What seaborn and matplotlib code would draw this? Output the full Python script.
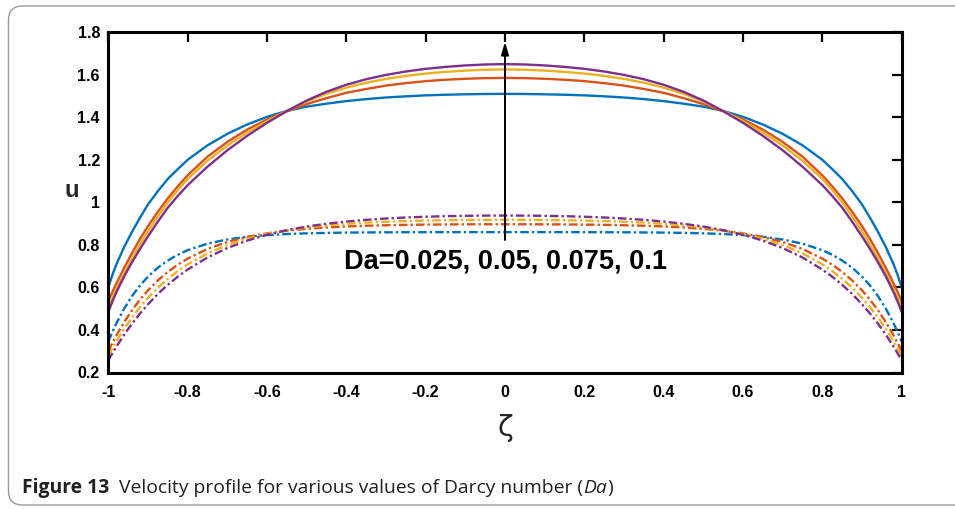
import numpy as np
import pandas as pd
import matplotlib
matplotlib.use("Agg")
import matplotlib.pyplot as plt
import seaborn as sns
from matplotlib.patches import FancyBboxPatch
from matplotlib.transforms import IdentityTransform

# ---------------- data (profiles are symmetric in zeta) -------------
zeta_half = [0.0, 0.05, 0.1, 0.15, 0.2, 0.25, 0.3, 0.35, 0.4, 0.45, 0.5, 0.55, 0.6, 0.65,
             0.7, 0.75, 0.8, 0.825, 0.85, 0.875, 0.9, 0.92, 0.94, 0.96, 0.98, 0.99, 1.0]

da_values = ["0.025", "0.05", "0.075", "0.1"]

# solid curves
u_solid_0025 = [1.510, 1.5095, 1.508, 1.506, 1.503, 1.4985, 1.493, 1.4855, 1.476, 1.464, 1.450, 1.430, 1.402, 1.366,
                1.322, 1.268, 1.200, 1.156, 1.110, 1.053, 0.990, 0.928, 0.862, 0.790, 0.707, 0.657, 0.600]
u_solid_005 = [1.585, 1.584, 1.581, 1.5765, 1.570, 1.5605, 1.549, 1.533, 1.515, 1.490, 1.462, 1.428, 1.390, 1.342,
               1.284, 1.215, 1.127, 1.075, 1.019, 0.956, 0.888, 0.828, 0.762, 0.692, 0.617, 0.577, 0.535]
u_solid_0075 = [1.625, 1.6235, 1.6195, 1.6135, 1.6055, 1.5945, 1.5805, 1.5625, 1.5395, 1.5105, 1.4745, 1.4305, 1.382, 1.328,
                1.267, 1.196, 1.110, 1.057, 1.000, 0.934, 0.864, 0.802, 0.736, 0.666, 0.591, 0.551, 0.508]
u_solid_01 = [1.650, 1.6483, 1.6438, 1.6368, 1.6278, 1.6153, 1.5993, 1.5788, 1.5528, 1.5198, 1.4788, 1.4288, 1.3738, 1.3128,
              1.2448, 1.1678, 1.0808, 1.030, 0.975, 0.9095, 0.840, 0.781, 0.719, 0.652, 0.576, 0.532, 0.485]

# dash-dot curves
u_dash_0025 = [0.860, 0.860, 0.860, 0.860, 0.8597, 0.8595, 0.8591, 0.8586, 0.8578, 0.8564, 0.8544, 0.8511, 0.8460, 0.8380,
               0.8255, 0.8058, 0.7750, 0.7535, 0.7265, 0.6930, 0.6507, 0.6094, 0.5599, 0.5007, 0.4297, 0.3893, 0.345]
u_dash_005 = [0.897, 0.8969, 0.8966, 0.8961, 0.8953, 0.8941, 0.8923, 0.8900, 0.8866, 0.8820, 0.8755, 0.8666, 0.8543, 0.8372,
              0.8136, 0.7809, 0.7356, 0.7069, 0.6730, 0.6331, 0.5861, 0.5428, 0.4934, 0.4371, 0.3731, 0.3378, 0.300]
u_dash_0075 = [0.918, 0.9178, 0.9172, 0.9161, 0.9145, 0.9122, 0.9090, 0.9048, 0.8992, 0.8917, 0.8819, 0.8689, 0.8517, 0.8291,
               0.7994, 0.7600, 0.7085, 0.6768, 0.6405, 0.5988, 0.5510, 0.5077, 0.4593, 0.4054, 0.3452, 0.3125, 0.278]
u_dash_01 = [0.938, 0.9377, 0.9367, 0.9349, 0.9323, 0.9288, 0.9240, 0.9178, 0.9097, 0.8993, 0.8861, 0.8691, 0.8476, 0.8201,
             0.7852, 0.7407, 0.6841, 0.6504, 0.6123, 0.5694, 0.5208, 0.4777, 0.4302, 0.3779, 0.3203, 0.2895, 0.257]

xticks = [-1, -0.8, -0.6, -0.4, -0.2, 0, 0.2, 0.4, 0.6, 0.8, 1]
xticklabels = ["-1", "-0.8", "-0.6", "-0.4", "-0.2", "0", "0.2", "0.4", "0.6", "0.8", "1"]
yticks = [0.2, 0.4, 0.6, 0.8, 1.0, 1.2, 1.4, 1.6, 1.8]
yticklabels = ["0.2", "0.4", "0.6", "0.8", "1", "1.2", "1.4", "1.6", "1.8"]

annotation_text = "Da=0.025, 0.05, 0.075, 0.1"
caption_bold = "Figure 13"
caption_plain = "  Velocity profile for various values of Darcy number ("
caption_italic = "Da"
caption_end = ")"

colors = ["#0072BD", "#D95319", "#EDB120", "#7E2F8E"]


def full_profile(half):
    h = np.asarray(half, dtype=float)
    return np.concatenate([h[::-1], h[1:]])


zeta_full = np.concatenate([-np.asarray(zeta_half)[::-1], np.asarray(zeta_half)[1:]])

rows = []
for da, us, ud in zip(da_values,
                      [u_solid_0025, u_solid_005, u_solid_0075, u_solid_01],
                      [u_dash_0025, u_dash_005, u_dash_0075, u_dash_01]):
    for kind, half in (("solid", us), ("dashdot", ud)):
        prof = full_profile(half)
        for z, u in zip(zeta_full, prof):
            rows.append({"zeta": z, "u": u, "Da": da, "kind": kind})
df = pd.DataFrame(rows)

# ---------------- figure ----------------
sns.set_style("white")
plt.rcParams["font.family"] = ["Liberation Sans", "DejaVu Sans"]

W, H = 955, 509
fig = plt.figure(figsize=(W / 100, H / 100), dpi=100)
ax_left, ax_right, ax_top, ax_bottom = 108.3, 901.7, 32.2, 372.5
ax = fig.add_axes([ax_left / W, 1 - ax_bottom / H, (ax_right - ax_left) / W, (ax_bottom - ax_top) / H])

sns.lineplot(data=df, x="zeta", y="u", hue="Da", style="kind",
             hue_order=da_values, style_order=["dashdot", "solid"],
             palette=colors, dashes={"solid": "", "dashdot": (3.6, 1.3, 1.0, 1.3)},
             sort=False, estimator=None, legend=False,
             linewidth=1.7, ax=ax)

ax.set_xlim(-1, 1)
ax.set_ylim(0.2, 1.8)
ax.set_xticks(xticks)
ax.set_xticklabels(xticklabels)
ax.set_yticks(yticks)
ax.set_yticklabels(yticklabels)
ax.tick_params(direction="in", length=7, width=1.6, top=True, right=True,
               labelsize=11.5, colors="black")
ax.tick_params(axis="x", pad=9)
ax.tick_params(axis="y", pad=6)
for lbl in ax.get_xticklabels() + ax.get_yticklabels():
    lbl.set_fontweight("bold")
for sp in ax.spines.values():
    sp.set_linewidth(2.2)
    sp.set_color("black")

ax.set_ylabel("u", rotation=0, fontsize=17, fontweight="bold", va="center", ha="center")
ax.yaxis.set_label_coords(-0.046, 0.536)
ax.set_xlabel("ζ", fontsize=21, family=["DejaVu Sans"], va="center", ha="center")
ax.xaxis.set_label_coords(0.5, -0.163)

ax.annotate("", xy=(0, 1.755), xytext=(0, 0.823),
            arrowprops=dict(arrowstyle="-|>,head_length=0.75,head_width=0.22",
                            color="black", lw=1.4, shrinkA=0, shrinkB=0))
ax.text(0, 0.690, annotation_text, ha="center", va="baseline",
        fontsize=19.5, fontweight="bold", color="black")

# outer rounded frame
frame = FancyBboxPatch((8.5, 4.0), 1000, 499, boxstyle="round,pad=0,rounding_size=14",
                       transform=IdentityTransform(), fill=False, edgecolor="#9a9a9a",
                       linewidth=1.0, clip_on=False)
fig.add_artist(frame)

# caption (pieces placed one after another; size chosen so the line spans ~591 px)
cap_family = ["Open Sans", "DejaVu Sans"]
pieces = ((caption_bold, dict(fontweight="bold")),
          (caption_plain, dict()),
          (caption_italic, dict(style="italic")),
          (caption_end, dict()))
fig.canvas.draw()
renderer = fig.canvas.get_renderer()


def place_caption(size):
    texts = []
    x = 22 / W
    y = 1 - 488 / H
    for txt, kw in pieces:
        t = fig.text(x, y, txt, fontsize=size, family=cap_family, va="center", ha="left",
                     color="#231f20", **kw)
        bb = t.get_window_extent(renderer=renderer)
        x = bb.x1 / W
        texts.append(t)
    return texts, x * W - 22


texts, width = place_caption(10.5)
for t in texts:
    t.remove()
place_caption(10.5 * 591 / width)

fig.savefig("out.png", dpi=100)
